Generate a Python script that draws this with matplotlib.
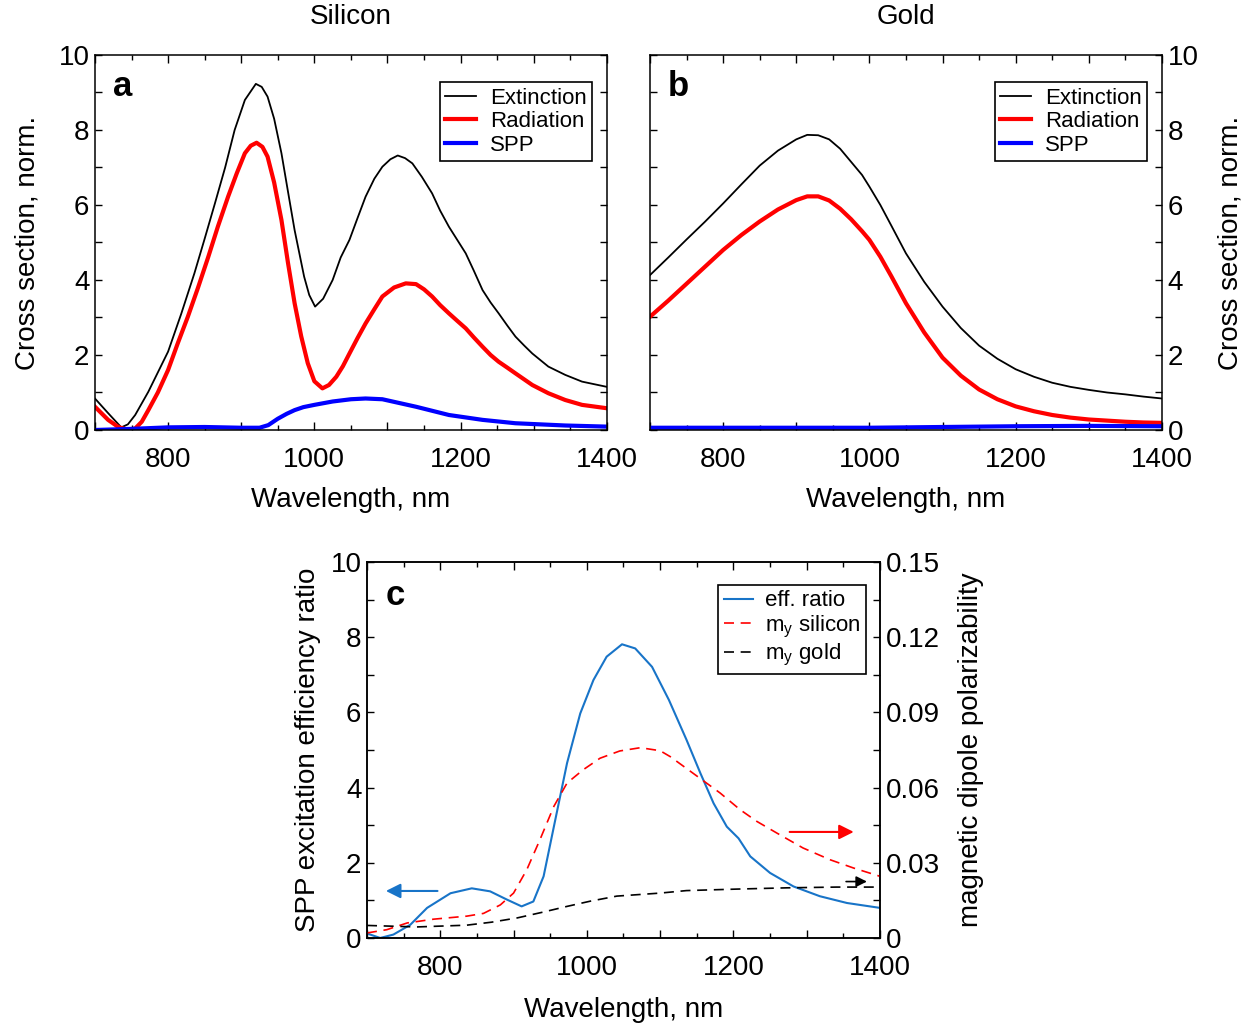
import matplotlib
matplotlib.use('Agg')
import matplotlib.pyplot as plt
from matplotlib.ticker import MultipleLocator, FuncFormatter

plt.rcParams['font.family'] = ['Liberation Sans', 'DejaVu Sans']
plt.rcParams['mathtext.fontset'] = 'custom'
plt.rcParams['mathtext.rm'] = 'Liberation Sans'
plt.rcParams['mathtext.it'] = 'Liberation Sans:italic'

# ---- panel a: silicon ----
si_ext_wl = [700, 718, 736, 745, 755, 773, 800, 818, 836, 850, 864, 878, 891, 905, 920, 928, 936, 945, 955, 964,
             973, 986, 993, 1001, 1012, 1025, 1036, 1048, 1059, 1070, 1082, 1093, 1104, 1114, 1124, 1134, 1147,
             1161, 1172, 1184, 1196, 1207, 1218, 1230, 1241, 1252, 1264, 1275, 1287, 1298, 1320, 1343, 1366, 1400]
si_ext = [0.84, 0.45, 0.07, 0.15, 0.40, 1.02, 2.09, 3.10, 4.18, 5.10, 6.04, 7.00, 8.00, 8.80, 9.23, 9.15, 8.89, 8.30,
          7.38, 6.35, 5.33, 4.09, 3.60, 3.29, 3.50, 4.00, 4.60, 5.07, 5.65, 6.22, 6.70, 7.02, 7.22, 7.32, 7.25, 7.11,
          6.75, 6.31, 5.85, 5.42, 5.05, 4.71, 4.25, 3.73, 3.40, 3.11, 2.78, 2.49, 2.25, 2.04, 1.69, 1.47, 1.29, 1.15]

si_rad_wl = [700, 718, 732, 745, 755, 764, 773, 786, 800, 813, 827, 841, 855, 868, 882, 894, 905, 913, 921, 929,
             936, 945, 955, 964, 973, 982, 991, 1000, 1011, 1020, 1030, 1039, 1048, 1059, 1070, 1082, 1093, 1109,
             1125, 1139, 1150, 1161, 1172, 1184, 1196, 1207, 1218, 1230, 1241, 1252, 1264, 1275, 1298, 1320,
             1343, 1366, 1400]
si_rad = [0.62, 0.27, 0.08, 0.00, 0.04, 0.22, 0.53, 1.00, 1.60, 2.30, 3.02, 3.80, 4.62, 5.42, 6.22, 6.85, 7.38, 7.58,
          7.66, 7.55, 7.29, 6.60, 5.60, 4.45, 3.38, 2.50, 1.78, 1.30, 1.11, 1.20, 1.42, 1.70, 2.04, 2.45, 2.84, 3.22,
          3.56, 3.80, 3.91, 3.89, 3.75, 3.56, 3.33, 3.11, 2.90, 2.71, 2.47, 2.22, 2.00, 1.82, 1.66, 1.51, 1.20, 0.98,
          0.80, 0.67, 0.58]

si_spp_wl = [700, 750, 800, 850, 900, 925, 937, 950, 962, 973, 985, 1000, 1025, 1050, 1070, 1093, 1139, 1184,
             1230, 1275, 1343, 1400]
si_spp = [0.00, 0.03, 0.07, 0.08, 0.06, 0.06, 0.13, 0.30, 0.43, 0.53, 0.61, 0.67, 0.76, 0.82, 0.84, 0.82, 0.62, 0.40,
          0.27, 0.18, 0.12, 0.09]

# ---- panel b: gold ----
au_wl = [700, 725, 750, 775, 800, 825, 850, 875, 900, 915, 930, 945, 960, 975, 990, 1000, 1015, 1030, 1050,
         1075, 1100, 1125, 1150, 1175, 1200, 1225, 1250, 1275, 1300, 1325, 1350, 1375, 1400]
au_ext = [4.13, 4.60, 5.08, 5.55, 6.04, 6.55, 7.05, 7.45, 7.75, 7.87, 7.86, 7.75, 7.50, 7.15, 6.80, 6.49, 6.00, 5.45,
          4.71, 3.95, 3.29, 2.72, 2.25, 1.90, 1.62, 1.42, 1.26, 1.15, 1.07, 1.00, 0.95, 0.89, 0.84]
au_rad = [3.02, 3.45, 3.90, 4.35, 4.80, 5.20, 5.56, 5.88, 6.13, 6.23, 6.23, 6.12, 5.90, 5.62, 5.30, 5.07, 4.62, 4.10,
          3.38, 2.60, 1.93, 1.45, 1.08, 0.82, 0.63, 0.50, 0.40, 0.33, 0.28, 0.25, 0.22, 0.20, 0.19]
au_spp_wl = [700, 1000, 1100, 1200, 1300, 1400]
au_spp = [0.06, 0.06, 0.08, 0.10, 0.11, 0.10]

# ---- panel c ----
eff_wl = [700, 718, 736, 759, 782, 814, 843, 868, 891, 911, 927, 941, 955, 973, 991, 1009, 1027, 1048, 1066,
          1089, 1112, 1136, 1155, 1173, 1191, 1207, 1223, 1250, 1282, 1318, 1355, 1400]
eff_ratio = [0.12, 0.00, 0.09, 0.35, 0.80, 1.19, 1.32, 1.24, 1.02, 0.84, 0.97, 1.64, 2.96, 4.65, 5.97, 6.86, 7.48,
             7.81, 7.70, 7.21, 6.33, 5.27, 4.38, 3.58, 2.96, 2.65, 2.17, 1.73, 1.37, 1.11, 0.93, 0.80]

my_si_wl = [700, 727, 755, 791, 836, 859, 882, 900, 918, 936, 955, 973, 995, 1018, 1045, 1073, 1100, 1114,
            1145, 1182, 1209, 1232, 1259, 1295, 1332, 1364, 1400]
my_si = [0.0020, 0.0033, 0.0060, 0.0075, 0.0087, 0.0098, 0.0132, 0.0179, 0.0272, 0.0392, 0.0525, 0.0618, 0.0671,
         0.0717, 0.0746, 0.0759, 0.0747, 0.0723, 0.0657, 0.0578, 0.0512, 0.0465, 0.0419, 0.0359, 0.0312, 0.0279,
         0.0246]

my_au_wl = [700, 768, 836, 870, 905, 940, 973, 1005, 1041, 1100, 1136, 1205, 1273, 1341, 1400]
my_au = [0.0050, 0.0044, 0.0051, 0.0063, 0.0080, 0.0103, 0.0126, 0.0147, 0.0167, 0.0179, 0.0189, 0.0195, 0.0200,
         0.0203, 0.0203]

FS = 20
blue_c = '#1874c8'


def hundreds(v, pos):
    return '%d' % v if int(round(v)) % 200 == 0 else ''


def evens(v, pos):
    return '%d' % v if int(round(v)) % 2 == 0 else ''


def style_x(ax):
    ax.set_xlim(700, 1400)
    ax.xaxis.set_major_locator(MultipleLocator(100))
    ax.xaxis.set_minor_locator(MultipleLocator(50))
    ax.xaxis.set_major_formatter(FuncFormatter(hundreds))
    ax.set_xlabel('Wavelength, nm', fontsize=FS, labelpad=10)
    ax.tick_params(axis='x', which='both', direction='in', top=True, labelsize=FS, pad=12.5, width=1)
    ax.tick_params(axis='x', which='major', length=6)
    ax.tick_params(axis='x', which='minor', length=3.5)
    for s in ax.spines.values():
        s.set_linewidth(1.1)


def style_y10(ax):
    ax.set_ylim(0, 10)
    ax.yaxis.set_major_locator(MultipleLocator(1))
    ax.yaxis.set_major_formatter(FuncFormatter(evens))
    ax.tick_params(axis='y', which='major', direction='in', length=5, width=1, labelsize=FS, pad=4)


fig = plt.figure(figsize=(12.56, 10.26), dpi=100)

# panel a
ax_a = fig.add_axes([0.0756, 0.5809, 0.4076, 0.3655])
ax_a.plot(si_ext_wl, si_ext, color='black', lw=1.3, label='Extinction')
ax_a.plot(si_rad_wl, si_rad, color='red', lw=3, label='Radiation')
ax_a.plot(si_spp_wl, si_spp, color='blue', lw=3, label='SPP')
style_x(ax_a)
style_y10(ax_a)
ax_a.tick_params(axis='y', right=True)
ax_a.set_ylabel('Cross section, norm.', fontsize=FS, labelpad=13)
ax_a.set_title('Silicon', fontsize=FS, pad=22.5)
ax_a.text(0.035, 0.89, 'a', transform=ax_a.transAxes, fontsize=25, fontweight='bold')

# panel b
ax_b = fig.add_axes([0.5175, 0.5809, 0.4076, 0.3655])
ax_b.plot(au_wl, au_ext, color='black', lw=1.3, label='Extinction')
ax_b.plot(au_wl, au_rad, color='red', lw=3, label='Radiation')
ax_b.plot(au_spp_wl, au_spp, color='blue', lw=3, label='SPP')
style_x(ax_b)
style_y10(ax_b)
ax_b.tick_params(axis='y', left=True, right=True, labelleft=False, labelright=True)
ax_b.yaxis.set_label_position('right')
ax_b.set_ylabel('Cross section, norm.', fontsize=FS, labelpad=14)
ax_b.set_title('Gold', fontsize=FS, pad=22.5)
ax_b.text(0.035, 0.89, 'b', transform=ax_b.transAxes, fontsize=25, fontweight='bold')

for ax in (ax_a, ax_b):
    leg = ax.legend(loc='upper right', bbox_to_anchor=(0.971, 0.928), borderaxespad=0, fancybox=False,
                    edgecolor='black', fontsize=16, handlelength=1.4, handletextpad=0.6,
                    labelspacing=0.12, borderpad=0.25, framealpha=1)
    leg.get_frame().set_linewidth(1.2)

# panel c
ax_c = fig.add_axes([0.2922, 0.0858, 0.4084, 0.3665])
l1, = ax_c.plot(eff_wl, eff_ratio, color=blue_c, lw=1.5, label='eff. ratio')
style_x(ax_c)
ax_c.set_xlabel('Wavelength, nm', fontsize=FS, labelpad=11.5)
style_y10(ax_c)
ax_c.tick_params(axis='y', right=False)
ax_c.set_ylabel('SPP excitation efficiency ratio', fontsize=FS, labelpad=7)
ax_c.text(0.037, 0.886, 'c', transform=ax_c.transAxes, fontsize=25, fontweight='bold')

ax_r = ax_c.twinx()
l2, = ax_r.plot(my_si_wl, my_si, color='red', lw=1.2, dashes=(6, 4), label=r'm$_\mathrm{y}$ silicon')
l3, = ax_r.plot(my_au_wl, my_au, color='black', lw=1.2, dashes=(6, 4), label=r'm$_\mathrm{y}$ gold')
ax_r.set_ylim(0, 0.15)
ax_r.yaxis.set_major_locator(MultipleLocator(0.015))
ax_r.yaxis.set_major_formatter(FuncFormatter(
    lambda v, p: ('0' if abs(v) < 1e-9 else '%.2f' % v) if int(round(v / 0.015)) % 2 == 0 else ''))
ax_r.tick_params(axis='y', direction='in', length=5, width=1, labelsize=FS, pad=4)
ax_r.set_ylabel('magnetic dipole polarizability', fontsize=FS, rotation=90)
ax_r.yaxis.set_label_coords(1.152, 0.5)
for s in ax_r.spines.values():
    s.set_linewidth(1.1)

# arrows pointing to the axis each curve belongs to
ax_c.annotate('', xy=(722, 1.25), xytext=(800, 1.25),
              arrowprops=dict(arrowstyle='-|>', color=blue_c, lw=1.5, mutation_scale=22))
ax_c.annotate('', xy=(1368, 2.82), xytext=(1273, 2.82),
              arrowprops=dict(arrowstyle='-|>', color='red', lw=1.5, mutation_scale=22))
ax_c.annotate('', xy=(1386, 1.50), xytext=(1350, 1.50),
              arrowprops=dict(arrowstyle='-|>', color='black', lw=1.2, mutation_scale=16))

leg = ax_r.legend(handles=[l1, l2, l3], loc='upper right', bbox_to_anchor=(0.973, 0.939), borderaxespad=0,
                  fancybox=False, edgecolor='black', fontsize=16, handlelength=1.3, handletextpad=0.55,
                  labelspacing=0.1, borderpad=0.25, framealpha=1)
leg.get_frame().set_linewidth(1.2)

fig.savefig('out.png', dpi=100)
